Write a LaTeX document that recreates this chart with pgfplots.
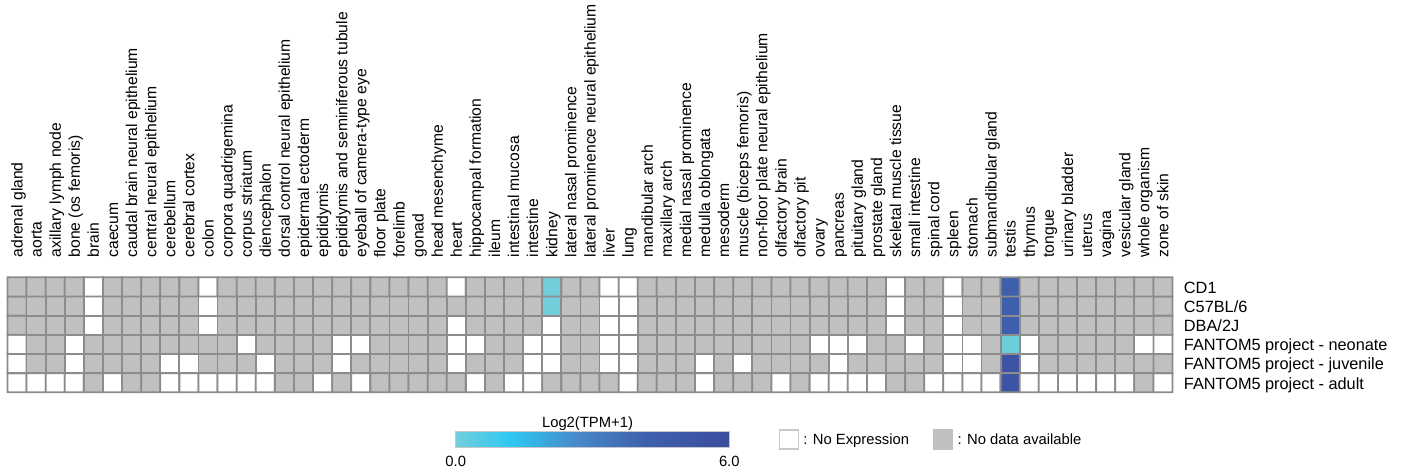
\documentclass[border=0pt]{standalone}
\usepackage{pgfplots}
\pgfplotsset{compat=1.18}
\usepackage{fontspec}
\setmainfont{Liberation Sans}
\definecolor{gridc}{RGB}{140,140,140}
\definecolor{nodata}{RGB}{192,192,192}
\definecolor{cbbord}{RGB}{200,200,200}
\pgfplotsset{
 colormap={heat}{rgb255(0pt)=(192,192,192); rgb255(90pt)=(192,192,192); rgb255(100pt)=(255,255,255); rgb255(190pt)=(255,255,255); rgb255(200pt)=(114,206,219); rgb255(320pt)=(46,200,242); rgb255(470pt)=(72,135,200); rgb255(620pt)=(62,96,172); rgb255(800pt)=(58,77,158)},
 colormap={tpm}{rgb255(0pt)=(114,206,219); rgb255(120pt)=(46,200,242); rgb255(270pt)=(72,135,200); rgb255(420pt)=(62,96,172); rgb255(600pt)=(58,77,158)},
}
\begin{document}
\begin{tikzpicture}
\useasboundingbox (0,0) rectangle (701pt,-235pt);
\begin{axis}[
 at={(3.75pt,-196.15pt)}, anchor=south west,
 scale only axis, width=582.5pt, height=57.5pt,
 xmin=-0.5, xmax=60.5, ymin=-0.5, ymax=5.5,
 clip=false,
 axis line style={draw=none},
 tick style={draw=none},
 major tick length=0pt,
 xtick={0.29,1.29,...,60.29},
 xticklabels={adrenal gland,aorta,axillary lymph node,bone (os femoris),brain,caecum,caudal brain neural epithelium,central neural epithelium,cerebellum,cerebral cortex,colon,corpora quadrigemina,corpus striatum,diencephalon,dorsal control neural epithelium,epidermal ectoderm,epididymis,epididymis and seminiferous tubule,eyeball of camera-type eye,floor plate,forelimb,gonad,head mesenchyme,heart,hippocampal formation,ileum,intestinal mucosa,intestine,kidney,lateral nasal prominence,lateral prominence neural epithelium,liver,lung,mandibular arch,maxillary arch,medial nasal prominence,medulla oblongata,mesoderm,muscle (biceps femoris),non-floor plate neural epithelium,olfactory brain,olfactory pit,ovary,pancreas,pituitary gland,prostate gland,skeletal muscle tissue,small intestine,spinal cord,spleen,stomach,submandibular gland,testis,thymus,tongue,urinary bladder,uterus,vagina,vesicular gland,whole organism,zone of skin},
 xticklabel pos=upper,
 xticklabel style={rotate=90, anchor=base west, font=\fontsize{7.85}{9}\selectfont},
 xticklabel shift=6.4pt,
 ytick={0,1,2,3,4,5},
 yticklabels={FANTOM5 project - adult,FANTOM5 project - juvenile,FANTOM5 project - neonate,DBA/2J,C57BL/6,CD1},
 yticklabel pos=right,
 yticklabel style={anchor=base west, yshift=-3.2pt, font=\fontsize{8.15}{10}\selectfont},
 yticklabel shift=2.2pt,
 colormap name=heat, point meta min=-2, point meta max=6,
 legend columns=2,
 legend style={draw=none, fill=none, at={(0.6616,-0.4104)}, anchor=west, inner sep=0pt,
   nodes={inner sep=2.2pt, text depth=0pt, font=\fontsize{7.4}{9}\selectfont},
   /tikz/every even column/.append style={column sep=9.7pt}},
]
\addplot[matrix plot*, mesh/cols=61, point meta=explicit, draw=gridc, line width=0.9pt, forget plot]
 table[row sep=\\, meta=c] {
x y c\\
0 0 -1\\ 1 0 -1\\ 2 0 -1\\ 3 0 -1\\ 4 0 -2\\ 5 0 -1\\ 6 0 -2\\ 7 0 -2\\ 8 0 -1\\ 9 0 -1\\ 10 0 -1\\ 11 0 -1\\ 12 0 -1\\ 13 0 -1\\ 14 0 -2\\ 15 0 -2\\ 16 0 -1\\ 17 0 -2\\ 18 0 -1\\ 19 0 -2\\ 20 0 -2\\ 21 0 -2\\ 22 0 -2\\ 23 0 -2\\ 24 0 -1\\ 25 0 -2\\ 26 0 -1\\ 27 0 -1\\ 28 0 -2\\ 29 0 -2\\ 30 0 -2\\ 31 0 -2\\ 32 0 -1\\ 33 0 -2\\ 34 0 -2\\ 35 0 -2\\ 36 0 -1\\ 37 0 -2\\ 38 0 -2\\ 39 0 -2\\ 40 0 -1\\ 41 0 -2\\ 42 0 -1\\ 43 0 -1\\ 44 0 -1\\ 45 0 -1\\ 46 0 -2\\ 47 0 -2\\ 48 0 -1\\ 49 0 -1\\ 50 0 -1\\ 51 0 -1\\ 52 0 5.3\\ 53 0 -1\\ 54 0 -1\\ 55 0 -1\\ 56 0 -1\\ 57 0 -1\\ 58 0 -1\\ 59 0 -2\\ 60 0 -1\\
0 1 -1\\ 1 1 -2\\ 2 1 -2\\ 3 1 -1\\ 4 1 -2\\ 5 1 -2\\ 6 1 -2\\ 7 1 -2\\ 8 1 -1\\ 9 1 -1\\ 10 1 -2\\ 11 1 -2\\ 12 1 -2\\ 13 1 -1\\ 14 1 -2\\ 15 1 -2\\ 16 1 -2\\ 17 1 -1\\ 18 1 -2\\ 19 1 -2\\ 20 1 -2\\ 21 1 -2\\ 22 1 -2\\ 23 1 -1\\ 24 1 -2\\ 25 1 -2\\ 26 1 -2\\ 27 1 -1\\ 28 1 -1\\ 29 1 -2\\ 30 1 -2\\ 31 1 -1\\ 32 1 -1\\ 33 1 -2\\ 34 1 -2\\ 35 1 -2\\ 36 1 -1\\ 37 1 -2\\ 38 1 -1\\ 39 1 -2\\ 40 1 -2\\ 41 1 -2\\ 42 1 -2\\ 43 1 -1\\ 44 1 -2\\ 45 1 -2\\ 46 1 -2\\ 47 1 -2\\ 48 1 -2\\ 49 1 -1\\ 50 1 -1\\ 51 1 -2\\ 52 1 5.3\\ 53 1 -1\\ 54 1 -2\\ 55 1 -2\\ 56 1 -2\\ 57 1 -2\\ 58 1 -2\\ 59 1 -2\\ 60 1 -2\\
0 2 -1\\ 1 2 -2\\ 2 2 -2\\ 3 2 -1\\ 4 2 -2\\ 5 2 -2\\ 6 2 -2\\ 7 2 -2\\ 8 2 -2\\ 9 2 -2\\ 10 2 -2\\ 11 2 -2\\ 12 2 -1\\ 13 2 -2\\ 14 2 -2\\ 15 2 -2\\ 16 2 -2\\ 17 2 -1\\ 18 2 -1\\ 19 2 -2\\ 20 2 -2\\ 21 2 -2\\ 22 2 -2\\ 23 2 -1\\ 24 2 -1\\ 25 2 -2\\ 26 2 -2\\ 27 2 -1\\ 28 2 -1\\ 29 2 -2\\ 30 2 -2\\ 31 2 -1\\ 32 2 -1\\ 33 2 -2\\ 34 2 -2\\ 35 2 -2\\ 36 2 -2\\ 37 2 -2\\ 38 2 -2\\ 39 2 -2\\ 40 2 -2\\ 41 2 -2\\ 42 2 -1\\ 43 2 -1\\ 44 2 -1\\ 45 2 -2\\ 46 2 -2\\ 47 2 -1\\ 48 2 -2\\ 49 2 -1\\ 50 2 -1\\ 51 2 -2\\ 52 2 0.1\\ 53 2 -1\\ 54 2 -2\\ 55 2 -2\\ 56 2 -2\\ 57 2 -2\\ 58 2 -2\\ 59 2 -1\\ 60 2 -1\\
0 3 -2\\ 1 3 -2\\ 2 3 -2\\ 3 3 -2\\ 4 3 -1\\ 5 3 -2\\ 6 3 -2\\ 7 3 -2\\ 8 3 -2\\ 9 3 -2\\ 10 3 -1\\ 11 3 -2\\ 12 3 -2\\ 13 3 -2\\ 14 3 -2\\ 15 3 -2\\ 16 3 -2\\ 17 3 -2\\ 18 3 -2\\ 19 3 -2\\ 20 3 -2\\ 21 3 -2\\ 22 3 -2\\ 23 3 -1\\ 24 3 -2\\ 25 3 -2\\ 26 3 -2\\ 27 3 -2\\ 28 3 -1\\ 29 3 -2\\ 30 3 -2\\ 31 3 -1\\ 32 3 -1\\ 33 3 -2\\ 34 3 -2\\ 35 3 -2\\ 36 3 -2\\ 37 3 -2\\ 38 3 -2\\ 39 3 -2\\ 40 3 -2\\ 41 3 -2\\ 42 3 -2\\ 43 3 -2\\ 44 3 -2\\ 45 3 -2\\ 46 3 -1\\ 47 3 -2\\ 48 3 -2\\ 49 3 -1\\ 50 3 -2\\ 51 3 -2\\ 52 3 4.2\\ 53 3 -2\\ 54 3 -2\\ 55 3 -2\\ 56 3 -2\\ 57 3 -2\\ 58 3 -2\\ 59 3 -2\\ 60 3 -2\\
0 4 -2\\ 1 4 -2\\ 2 4 -2\\ 3 4 -2\\ 4 4 -1\\ 5 4 -2\\ 6 4 -2\\ 7 4 -2\\ 8 4 -2\\ 9 4 -2\\ 10 4 -1\\ 11 4 -2\\ 12 4 -2\\ 13 4 -2\\ 14 4 -2\\ 15 4 -2\\ 16 4 -2\\ 17 4 -2\\ 18 4 -2\\ 19 4 -2\\ 20 4 -2\\ 21 4 -2\\ 22 4 -2\\ 23 4 -2\\ 24 4 -2\\ 25 4 -2\\ 26 4 -2\\ 27 4 -2\\ 28 4 0\\ 29 4 -2\\ 30 4 -2\\ 31 4 -1\\ 32 4 -1\\ 33 4 -2\\ 34 4 -2\\ 35 4 -2\\ 36 4 -2\\ 37 4 -2\\ 38 4 -2\\ 39 4 -2\\ 40 4 -2\\ 41 4 -2\\ 42 4 -2\\ 43 4 -2\\ 44 4 -2\\ 45 4 -2\\ 46 4 -1\\ 47 4 -2\\ 48 4 -2\\ 49 4 -1\\ 50 4 -2\\ 51 4 -2\\ 52 4 4.2\\ 53 4 -2\\ 54 4 -2\\ 55 4 -2\\ 56 4 -2\\ 57 4 -2\\ 58 4 -2\\ 59 4 -2\\ 60 4 -2\\
0 5 -2\\ 1 5 -2\\ 2 5 -2\\ 3 5 -2\\ 4 5 -1\\ 5 5 -2\\ 6 5 -2\\ 7 5 -2\\ 8 5 -2\\ 9 5 -2\\ 10 5 -1\\ 11 5 -2\\ 12 5 -2\\ 13 5 -2\\ 14 5 -2\\ 15 5 -2\\ 16 5 -2\\ 17 5 -2\\ 18 5 -2\\ 19 5 -2\\ 20 5 -2\\ 21 5 -2\\ 22 5 -2\\ 23 5 -1\\ 24 5 -2\\ 25 5 -2\\ 26 5 -2\\ 27 5 -2\\ 28 5 0\\ 29 5 -2\\ 30 5 -2\\ 31 5 -1\\ 32 5 -1\\ 33 5 -2\\ 34 5 -2\\ 35 5 -2\\ 36 5 -2\\ 37 5 -2\\ 38 5 -2\\ 39 5 -2\\ 40 5 -2\\ 41 5 -2\\ 42 5 -2\\ 43 5 -2\\ 44 5 -2\\ 45 5 -2\\ 46 5 -1\\ 47 5 -2\\ 48 5 -2\\ 49 5 -1\\ 50 5 -2\\ 51 5 -2\\ 52 5 4.2\\ 53 5 -2\\ 54 5 -2\\ 55 5 -2\\ 56 5 -2\\ 57 5 -2\\ 58 5 -2\\ 59 5 -2\\ 60 5 -2\\
};
\addlegendimage{legend image code/.code={\draw[draw=cbbord, fill=white, line width=0.6pt] (0pt,-4.75pt) rectangle (9.5pt,4.75pt);}}
\addlegendentry{: No Expression}
\addlegendimage{legend image code/.code={\draw[draw=nodata, fill=nodata, line width=0.6pt] (0pt,-4.75pt) rectangle (9.5pt,4.75pt);}}
\addlegendentry{: No data available}
\end{axis}
\begin{axis}[
 at={(227.85pt,-215.85pt)}, anchor=south west,
 scale only axis, width=136.8pt, height=2pt, hide axis,
 xmin=0, xmax=1, ymin=0, ymax=1,
 colormap name=tpm, point meta min=0, point meta max=6,
 colorbar horizontal,
 colorbar shift/.style={},
 colorbar style={at={(parent axis.south west)}, anchor=north west,
   width=136.8pt, height=7.8pt,
   xtick={0,6}, xticklabels={0.0,6.0},
   major tick length=0pt, tick style={draw=none},
   axis line style={draw=cbbord, line width=0.6pt},
   xticklabel style={font=\fontsize{7.4}{9}\selectfont},
   xticklabel shift=1pt,
   title={Log2(TPM+1)},
   title style={font=\fontsize{7.4}{9}\selectfont, at={(0.5,1)}, anchor=base, yshift=-3.65pt, xshift=-2.5pt}},
]
\addplot[draw=none] coordinates {(0,0)};
\end{axis}
\end{tikzpicture}
\end{document}
